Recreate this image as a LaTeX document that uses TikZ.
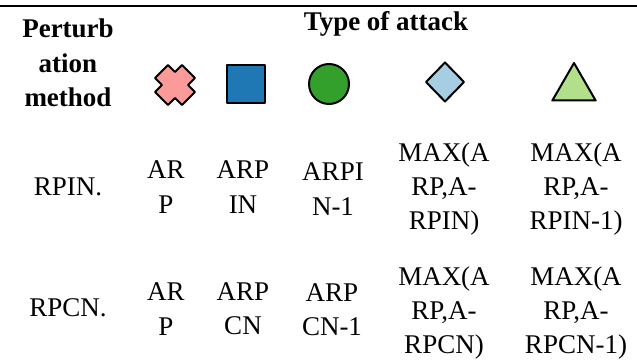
\documentclass[tikz,border=0pt]{standalone}
\usepackage{fontspec}
\setmainfont{Liberation Serif}
\usepackage{tikz}
\usetikzlibrary{shapes.geometric}
\definecolor{pairpink}{HTML}{FB9A99}
\definecolor{pairblue}{HTML}{1F78B4}
\definecolor{pairgreen}{HTML}{33A02C}
\definecolor{pairlblue}{HTML}{A6CEE3}
\definecolor{pairlgreen}{HTML}{B2DF8A}
\tikzset{
  head/.style={align=center, inner sep=0pt, font=\fontsize{13.5}{17.2}\selectfont\bfseries},
  cell/.style={align=center, inner sep=0pt, font=\fontsize{13.5}{17.2}\selectfont},
  marker/.style={draw=black, line width=1pt, line join=round, inner sep=0pt, outer sep=0pt},
  toprule/.style={line width=1pt}
}
\begin{document}
\begin{tikzpicture}[x=0.5pt,y=-0.5pt]
  \useasboundingbox (0,0) rectangle (637,363);
  \coordinate (ruleL) at (0,6);
  \coordinate (ruleR) at (637,6);
  \draw[toprule] (ruleL) -- (ruleR);
  % header
  \node[head] (method) at (68,63) {Perturb\\ation\\method};
  \node[head] (attack) at (386,24) {Type of attack};
  % markers
  \coordinate (xmark) at (175,85);
  \draw[marker, fill=pairpink, shift={(xmark)}]
    (0,-13) -- (7,-20) -- (20,-7) -- (13,0) -- (20,7) -- (7,20) -- (0,13)
    -- (-7,20) -- (-20,7) -- (-13,0) -- (-20,-7) -- (-7,-20) -- cycle;
  \node[marker, fill=pairblue, rectangle, minimum width=19pt, minimum height=19pt] (sqmark) at (246,84) {};
  \node[marker, fill=pairgreen, circle, minimum size=20pt] (ocmark) at (329,84) {};
  \node[marker, fill=pairlblue, diamond, minimum width=19pt, minimum height=19.5pt] (dmmark) at (445,82) {};
  \node[marker, fill=pairlgreen, regular polygon, regular polygon sides=3, minimum size=25pt] (trmark) at (574,88) {};
  % row RPIN
  \node[cell] (rpin) at (68,187) {RPIN.};
  \node[cell] (rpinA) at (166,187) {AR\\P};
  \node[cell] (rpinB) at (243,187) {ARP\\IN};
  \node[cell] (rpinC) at (333,189) {ARPI\\N-1};
  \node[cell] (rpinD) at (444,189) {MAX(A\\RP,A-\\RPIN)};
  \node[cell] (rpinE) at (576,189) {MAX(A\\RP,A-\\RPIN-1)};
  % row RPCN
  \node[cell] (rpcn) at (68,308) {RPCN.};
  \node[cell] (rpcnA) at (166,309) {AR\\P};
  \node[cell] (rpcnB) at (243,309) {ARP\\CN};
  \node[cell] (rpcnC) at (332,310) {ARP\\CN-1};
  \node[cell] (rpcnD) at (444,313) {MAX(A\\RP,A-\\RPCN)};
  \node[cell] (rpcnE) at (576,313) {MAX(A\\RP,A-\\RPCN-1)};
\end{tikzpicture}
\end{document}
